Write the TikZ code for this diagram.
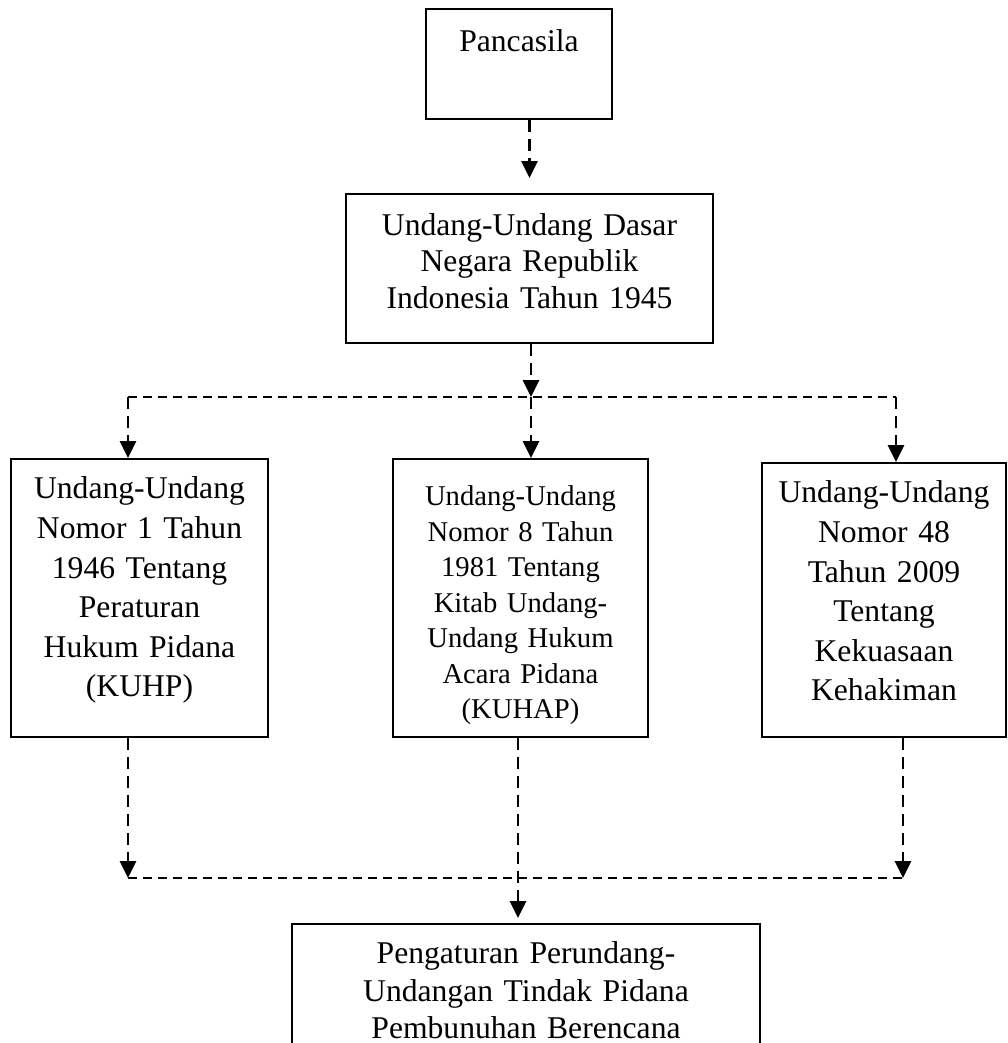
\documentclass[tikz,border=0pt]{standalone}
\usepackage{fontspec}
\setmainfont{Liberation Serif}
\usepackage{tikz}
\usetikzlibrary{arrows.meta,positioning}

\begin{document}
\begin{tikzpicture}[
  box/.style={
    draw, line width=1.1pt, anchor=north,
    inner sep=0pt, align=center,
    font=\fontsize{18}{22.5}\selectfont
  },
  dasharrow/.style={
    -{Triangle[length=0.34cm, width=0.32cm]},
    line width=1.6pt,
    dash pattern=on 0.24cm off 0.14cm
  },
  busline/.style={
    line width=1.1pt,
    dash pattern=on 0.18cm off 0.12cm
  }
]
\useasboundingbox (0,0) rectangle (20.16,-20.86);

\node[box, text width=3.72cm,
  text height=0.86cm, text depth=1.34cm] (pancasila) at (10.38,-0.16)
  {Pancasila};

\node[box, text width=7.34cm,
  text height=0.84cm, text depth=2.14cm,
  font=\fontsize{18}{20.5}\selectfont] (uud) at (10.59,-3.86)
  {Undang-Undang Dasar\\Negara Republik\\Indonesia Tahun 1945};

\node[box, text width=5.14cm,
  text height=0.80cm, text depth=4.76cm] (kuhp) at (2.79,-9.16)
  {Undang-Undang\\Nomor 1 Tahun\\1946 Tentang\\Peraturan\\Hukum Pidana\\(KUHP)};

\node[box, text width=5.10cm,
  text height=0.94cm, text depth=4.62cm,
  font=\fontsize{16.3}{20.2}\selectfont] (kuhap) at (10.41,-9.16)
  {Undang-Undang\\Nomor 8 Tahun\\1981 Tentang\\Kitab Undang-\\Undang Hukum\\Acara Pidana\\(KUHAP)};

\node[box, text width=4.88cm,
  text height=0.80cm, text depth=4.68cm] (kk) at (17.68,-9.24)
  {Undang-Undang\\Nomor 48\\Tahun 2009\\Tentang\\Kekuasaan\\Kehakiman};

\node[box, text width=9.36cm,
  text height=0.80cm, text depth=2.80cm,
  font=\fontsize{18}{21.3}\selectfont] (result) at (10.52,-18.46)
  {Pengaturan Perundang-\\Undangan Tindak Pidana\\Pembunuhan Berencana};

% upper branch
\coordinate (tl) at (2.56,-7.94);
\coordinate (tm) at (10.62,-7.94);
\coordinate (tr) at (17.92,-7.94);

\draw[dasharrow, shorten >=0.3cm] (uud.north |- pancasila.south) -- (uud.north);
\draw[dasharrow] (uud.south -| tm) -- (tm);
\draw[busline] (tl) -- (tr);
\draw[dasharrow] (tl) -- (tl |- kuhp.north);
\draw[dasharrow] (tm) -- (tm |- kuhap.north);
\draw[dasharrow] (tr) -- (tr |- kk.north);

% lower branch
\coordinate (bl) at (2.56,-17.56);
\coordinate (bm) at (10.36,-17.56);
\coordinate (br) at (18.06,-17.56);

\draw[dasharrow] (bl |- kuhp.south) -- (bl);
\draw[dasharrow] (br |- kk.south) -- (br);
\draw[busline] (bl) -- (br);
\draw[dasharrow, shorten >=0.1cm] (bm |- kuhap.south) -- (bm |- result.north);

\end{tikzpicture}
\end{document}
